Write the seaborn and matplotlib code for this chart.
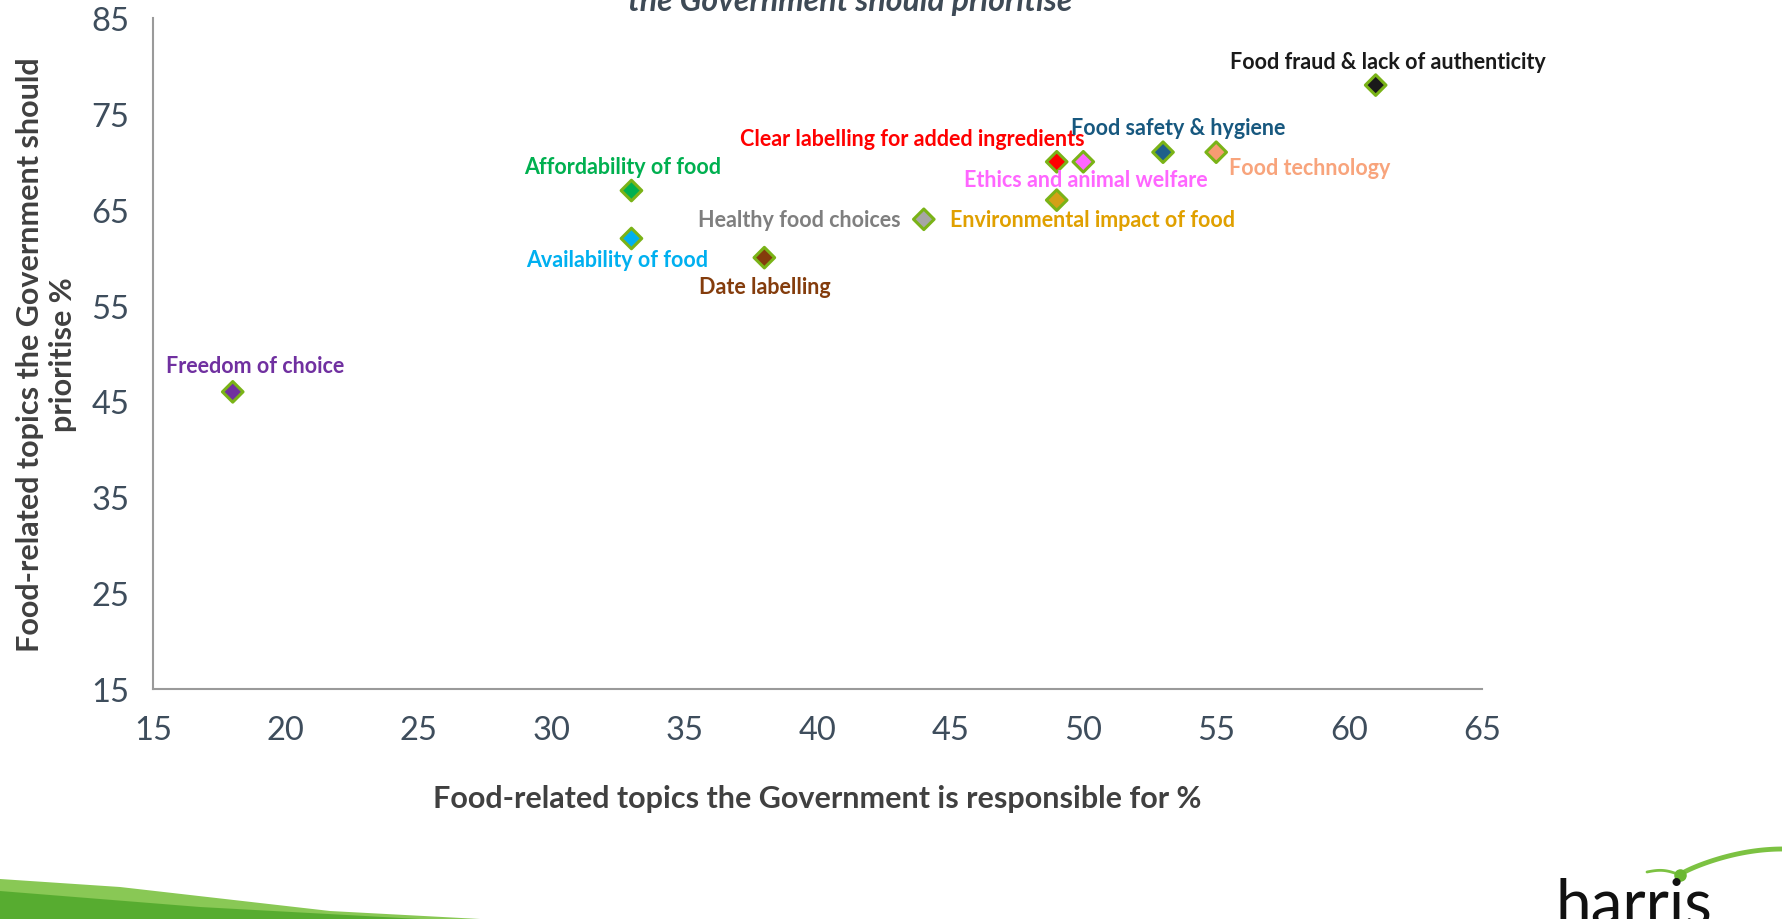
import matplotlib
matplotlib.use("Agg")
import matplotlib.pyplot as plt
import seaborn as sns
import pandas as pd
import numpy as np
from matplotlib.patches import Polygon

topics = ["Freedom of choice", "Affordability of food", "Availability of food", "Date labelling",
          "Healthy food choices", "Clear labelling for added ingredients", "Environmental impact of food",
          "Ethics and animal welfare", "Food safety & hygiene", "Food technology",
          "Food fraud & lack of authenticity"]
responsible = [18, 33, 33, 38, 44, 49, 49, 50, 53, 55, 61]
prioritise = [46, 67, 62, 60, 64, 70, 66, 70, 71, 71, 78]
marker_colors = ["#7030A0", "#00B050", "#00B0F0", "#843C0C", "#A6A6A6", "#FF0000", "#D4A017",
                 "#FF66FF", "#1F5F8B", "#F79B72", "#1A1A1A"]
label_colors = ["#7030A0", "#00B050", "#00B0F0", "#843C0C", "#7F7F7F", "#FF0000", "#E0A000",
                "#FF66FF", "#17587F", "#F8A47C", "#1A1A1A"]
x_ticks = [15, 20, 25, 30, 35, 40, 45, 50, 55, 60, 65]
y_ticks = [15, 25, 35, 45, 55, 65, 75, 85]

# label offsets in points (dx, dy, ha)
offsets = [(16, 19, "center"), (-6, 17, "center"), (-10, -15, "center"), (0, -21, "center"),
           (-17, 0, "right"), (-104, 17, "center"), (-77, -14, "left"),
           (2, -13, "center"), (11, 18, "center"), (9, -11, "left"), (9, 17, "center")]

df = pd.DataFrame({"topic": topics, "x": responsible, "y": prioritise})

sns.set_theme(style="white")
plt.rcParams["font.family"] = ["Lato", "DejaVu Sans"]

fig = plt.figure(figsize=(17.83, 9.2), dpi=100)
ax = fig.add_axes([153 / 1783, 1 - 690 / 920, (1482 - 153) / 1783, (690 - 19) / 920])

sns.scatterplot(data=df, x="x", y="y", hue="topic", palette=dict(zip(topics, marker_colors)),
                marker="D", s=110, edgecolor="#7AB317", linewidth=2.2, legend=False, ax=ax,
                zorder=5, clip_on=False)

for t, x, y, c, (dx, dy, ha) in zip(topics, responsible, prioritise, label_colors, offsets):
    ax.annotate(t, (x, y), xytext=(dx, dy), textcoords="offset points", ha=ha, va="center",
                color=c, fontsize=15.5, fontweight="bold", zorder=6)

ax.set_xlim(15, 65)
ax.set_ylim(15, 85)
ax.set_xticks(x_ticks)
ax.set_yticks(y_ticks)
for s in ["top", "right"]:
    ax.spines[s].set_visible(False)
for s in ["left", "bottom"]:
    ax.spines[s].set_color("#9A9A9A")
    ax.spines[s].set_linewidth(1.5)
ax.tick_params(axis="both", direction="out", length=11, width=1.5, color="#9A9A9A",
               labelsize=23.5, labelcolor="#3E4D5C", pad=6)
ax.tick_params(axis="x", pad=8)
ax.set_xlabel("Food-related topics the Government is responsible for %", fontsize=22,
              fontweight="bold", color="#404040", labelpad=28)
ax.set_ylabel("Food-related topics the Government should\nprioritise %", fontsize=22,
              fontweight="bold", color="#404040", labelpad=10, linespacing=1.25)

fig.text(850 / 1783, 1 - 2 / 920, "the Government should prioritise", ha="center", va="center",
         fontsize=23, fontweight="bold", fontstyle="italic", color="#3E4A56")

# decorative swoosh bottom-left
sw = Polygon([[0, 0], [0, 40 / 920], [120 / 1783, 32 / 920], [330 / 1783, 8 / 920],
              [480 / 1783, 0]], closed=True, transform=fig.transFigure,
             facecolor="#7CC242", edgecolor="none", alpha=0.9)
fig.patches.append(sw)
sw2 = Polygon([[0, 0], [0, 28 / 920], [200 / 1783, 12 / 920], [420 / 1783, 0]], closed=True,
              transform=fig.transFigure, facecolor="#4FA82A", edgecolor="none", alpha=0.85)
fig.patches.append(sw2)

# logo
fig.text(1556 / 1783, 1 - 925 / 920, "harris", ha="left", va="baseline", fontsize=46,
         color="#111111", family=["Lato", "DejaVu Sans"])
ax_arc = fig.add_axes([0, 0, 1, 1], facecolor="none")
ax_arc.set_axis_off()
ax_arc.set_xlim(0, 1783)
ax_arc.set_ylim(920, 0)
tt = np.linspace(0, 1, 60)
ax_arc.plot(1680 + 103 * tt, 876 - 26 * np.sin(tt * np.pi / 2) ** 0.8, color="#7CC242", lw=3.5)
ax_arc.plot(1647 + 33 * tt, 873 - 3 * np.sin(tt * np.pi) + 3 * tt, color="#7CC242", lw=2)
ax_arc.plot([1680], [876], "o", color="#6BB832", ms=8)

fig.savefig("out.png", dpi=100)
